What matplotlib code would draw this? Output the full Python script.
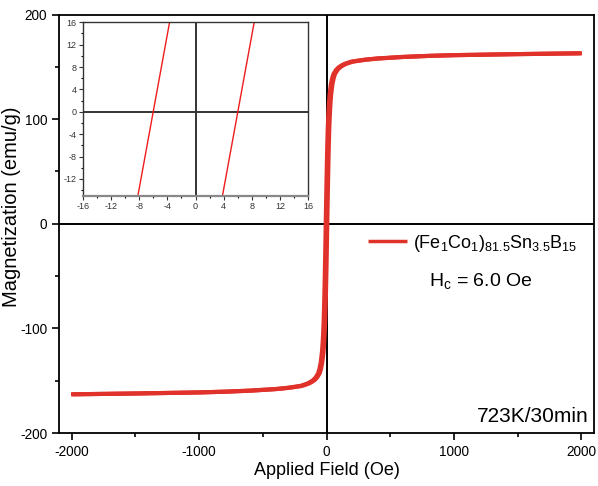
import numpy as np
import matplotlib
matplotlib.use("Agg")
import matplotlib.pyplot as plt
from matplotlib.ticker import MultipleLocator

plt.rcParams["font.family"] = ["Liberation Sans", "DejaVu Sans"]
plt.rcParams["mathtext.fontset"] = "custom"
plt.rcParams["mathtext.rm"] = "Liberation Sans"
plt.rcParams["mathtext.it"] = "Liberation Sans:italic"
plt.rcParams["axes.unicode_minus"] = False

# Anhysteretic half-curve (positive field side), emu/g vs Oe
field_oe = [0, 2, 4, 8, 12, 16, 20, 25, 30, 40, 50, 60, 80, 100, 125, 150,
            200, 300, 400, 600, 800, 1000, 1500, 2000]
moment = [0, 13.8, 27.6, 53, 75, 92, 104, 115, 123, 133, 139, 143, 147, 149.5,
          151.5, 153, 155, 156.8, 158, 159.5, 160.5, 161.2, 162.2, 163]
coercivity = 6.0  # Oe

sample_label = r"$\mathrm{(Fe_1Co_1)_{81.5}Sn_{3.5}B_{15}}$"
anneal_label = "723K/30min"

h = np.array(field_oe, dtype=float)
m = np.array(moment, dtype=float)
h_full = np.concatenate([-h[::-1], h[1:]])
m_full = np.concatenate([-m[::-1], m[1:]])
h_desc = h_full - coercivity
h_asc = h_full + coercivity

red = "#e0312a"

fig = plt.figure(figsize=(5.98, 4.86), dpi=100)
ax = fig.add_axes([0.0987, 0.109, 0.8946, 0.861])

ax.plot(h_desc, m_full, color=red, lw=3.0, solid_capstyle="butt")
ax.plot(h_asc, m_full, color=red, lw=3.0, solid_capstyle="butt",
        label=sample_label)
ax.axhline(0, color="black", lw=1.4, zorder=1)
ax.axvline(0, color="black", lw=1.4, zorder=1)

ax.set_xlim(-2100, 2100)
ax.set_ylim(-200, 200)
ax.xaxis.set_major_locator(MultipleLocator(1000))
ax.xaxis.set_minor_locator(MultipleLocator(500))
ax.yaxis.set_major_locator(MultipleLocator(100))
ax.yaxis.set_minor_locator(MultipleLocator(50))
ax.tick_params(which="major", direction="out", length=5, width=1.2,
               labelsize=9.8, colors="black")
ax.tick_params(which="minor", direction="out", length=3, width=1.2)
for s in ax.spines.values():
    s.set_linewidth(1.3)
ax.set_xlabel("Applied Field (Oe)", fontsize=13, labelpad=2)
ax.set_ylabel("Magnetization (emu/g)", fontsize=14.5, labelpad=4)
ax.yaxis.set_label_coords(-0.072, 0.54)

leg = ax.legend(loc="center left", bbox_to_anchor=(0.577, 0.454),
                frameon=False, fontsize=13, borderpad=0, borderaxespad=0,
                handlelength=2.2, handletextpad=0.3)
for ln in leg.get_lines():
    ln.set_linewidth(2.5)
ax.text(0.789, 0.351, r"$\mathrm{H_c}$ = %.1f Oe" % coercivity,
        transform=ax.transAxes, ha="center", va="baseline", fontsize=14)
ax.text(0.9907, 0.027, anneal_label, transform=ax.transAxes,
        ha="right", va="baseline", fontsize=15)

# Zoomed view around the origin
ins = fig.add_axes([0.1383, 0.5973, 0.3773, 0.3568])
ins.plot(h_desc, m_full, color="#ee1c1c", lw=1.0)
ins.plot(h_asc, m_full, color="#ee1c1c", lw=1.0)
ins.axhline(0, color="#333333", lw=1.4, zorder=1)
ins.axvline(0, color="#333333", lw=1.4, zorder=1)
ins.set_xlim(-16, 16)
ins.set_ylim(-15, 16)
ins.xaxis.set_major_locator(MultipleLocator(4))
ins.xaxis.set_minor_locator(MultipleLocator(2))
ins.yaxis.set_major_locator(MultipleLocator(4))
ins.yaxis.set_minor_locator(MultipleLocator(2))
ins.tick_params(which="major", direction="out", length=3, width=0.8,
                labelsize=6.5, colors="#333333", pad=1.5)
ins.tick_params(which="minor", direction="out", length=1.5, width=0.8)
for s in ins.spines.values():
    s.set_linewidth(1.0)
    s.set_color("#333333")
ins.spines["bottom"].set_color("#888888")
ins.spines["bottom"].set_linewidth(1.6)

fig.savefig("out.png", dpi=100)
